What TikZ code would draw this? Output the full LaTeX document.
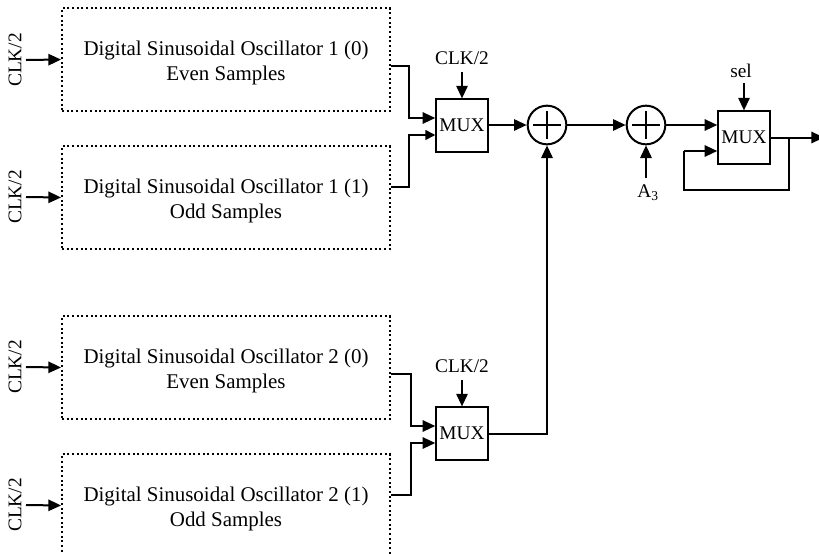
\documentclass[tikz,border=0pt]{standalone}
\usepackage{fontspec}
\setmainfont{Liberation Serif}
\usetikzlibrary{arrows.meta}
\tikzset{
  wire/.style={line width=1.5pt,-{Triangle[length=9.5pt,width=8.5pt]}},
  thinwire/.style={line width=1.1pt,-{Triangle[length=7.5pt,width=7.5pt]}},
  line/.style={line width=1.5pt},
  osc/.style={draw,dotted,line width=1.5pt,minimum width=246pt,minimum height=77pt,inner sep=0pt},
  osctext/.style={inner sep=0pt,align=center,font=\fontsize{15.7}{18.7}\selectfont},
  mux/.style={draw,line width=1.1pt,minimum width=39pt,minimum height=39.5pt,inner sep=0pt,font=\fontsize{14.5}{16}\selectfont},
  adder/.style={draw,circle,line width=1.5pt,minimum size=29pt,inner sep=0pt},
  lab/.style={inner sep=0pt,font=\fontsize{14.5}{16}\selectfont}
}
\begin{document}
\begin{tikzpicture}[x=0.75pt,y=-0.75pt]
      \path[use as bounding box,clip] (0,0) rectangle (819,554);
      % oscillators
      \node[osc] (osc1) at (226,59.5) {};
      \node[osc] (osc2) at (226,197.5) {};
      \node[osc] (osc3) at (226,367.5) {};
      \node[osc] (osc4) at (226,505.5) {};
      \node[osctext] (txt1) at ([yshift=-2.5pt]osc1) {Digital Sinusoidal Oscillator 1 (0)\\Even Samples};
      \node[osctext] (txt2) at ([yshift=-2.5pt]osc2) {Digital Sinusoidal Oscillator 1 (1)\\Odd Samples};
      \node[osctext] (txt3) at ([yshift=-2.5pt]osc3) {Digital Sinusoidal Oscillator 2 (0)\\Even Samples};
      \node[osctext] (txt4) at ([yshift=-2.5pt]osc4) {Digital Sinusoidal Oscillator 2 (1)\\Odd Samples};
      % blocks
      \node[mux] (mux1) at (462,125.5) {MUX};
      \node[mux] (mux2) at (462,433.5) {MUX};
      \node[mux] (mux3) at (744,137.5) {MUX};
      \node[adder] (add1) at (547,125) {};
      \node[adder] (add2) at (646,125) {};
      \draw[line] ([xshift=5pt]add1.west) -- ([xshift=-5pt]add1.east);
      \draw[line] ([yshift=-5pt]add1.north) -- ([yshift=5pt]add1.south);
      \draw[line] ([xshift=5pt]add2.west) -- ([xshift=-5pt]add2.east);
      \draw[line] ([yshift=-5pt]add2.north) -- ([yshift=5pt]add2.south);
      % clock labels
      \node[lab,rotate=90] (clka) at (15,60) {CLK/2};
      \node[lab,rotate=90] (clkb) at (15,197) {CLK/2};
      \node[lab,rotate=90] (clkc) at (15,367) {CLK/2};
      \node[lab,rotate=90] (clkd) at (15,505) {CLK/2};
      \node[lab] (clke) at (462,58) {CLK/2};
      \node[lab] (clkf) at (462,366) {CLK/2};
      \node[lab] (sel) at (741,71) {sel};
      \node[lab] (a3) at (648,193) {A\textsubscript{3}};
      % clock arrows
      \draw[wire] (26,60) coordinate (ca) -- (osc1.west);
      \draw[wire] (26,197) coordinate (cb) -- (osc2.west);
      \draw[wire] (26,367) coordinate (cc) -- (osc3.west);
      \draw[wire] (26,505) coordinate (cd) -- (osc4.west);
      \draw[wire] (mux1.north |- 0,72) coordinate (ce) -- (mux1.north);
      \draw[wire] (mux2.north |- 0,380) coordinate (cf) -- (mux2.north);
      \draw[wire] (mux3.north |- 0,83) coordinate (cs) -- (mux3.north);
      \draw[wire] (add2.south |- 0,178) coordinate (ct) -- (add2.south);
      % mux inputs
      \draw[wire] (osc1.east |- 0,66) -- (409,66) -- (409,118) -- (mux1.west |- 0,118);
      \draw[thinwire] (osc2.east |- 0,187) -- (409,187) -- (409,135) -- (mux1.west |- 0,135);
      \draw[wire] (osc3.east |- 0,374) -- (411,374) -- (411,426) -- (mux2.west |- 0,426);
      \draw[wire] (osc4.east |- 0,495) -- (411,495) -- (411,443) -- (mux2.west |- 0,443);
      % sum path
      \draw[wire] (mux1.east |- add1.west) -- (add1.west);
      \draw[wire] (add1.east) -- (add2.west);
      \draw[wire] (add2.east) -- (mux3.west |- add2.east);
      \draw[wire] (mux2.east) -- (add1.south |- mux2.east) -- (add1.south);
      % output and feedback
      \draw[wire] (mux3.east) -- (824,137.5);
      \draw[line] (789,137.5) coordinate (fb) -- (789,190) -- (684,190) -- (684,151);
      \draw[wire] (684,151) -- (mux3.west |- 0,151);
\end{tikzpicture}
\end{document}
